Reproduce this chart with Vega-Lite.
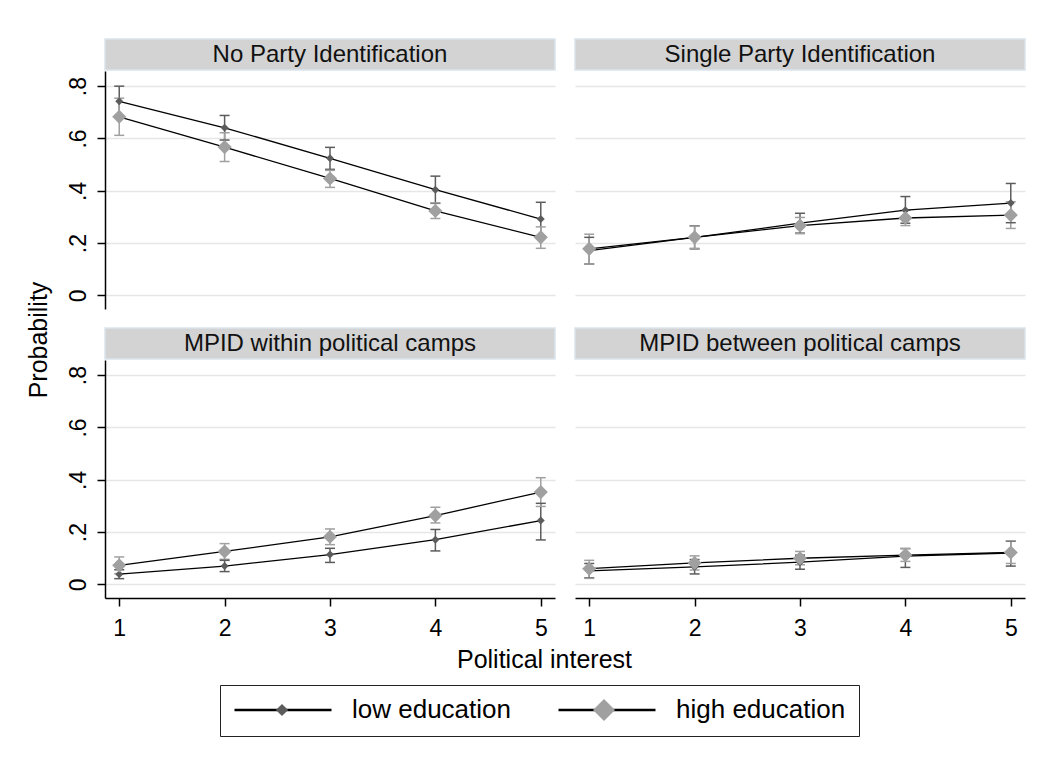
{
  "$schema": "https://vega.github.io/schema/vega-lite/v6.json",
  "background": "white",
  "padding": {"left": 27, "top": 38, "right": 0, "bottom": 5},
  "datasets": {
    "pts": [
      {"panel": "No Party Identification", "interest": 1, "edu": "low education", "p": 0.742, "lo": 0.685, "hi": 0.800},
      {"panel": "No Party Identification", "interest": 2, "edu": "low education", "p": 0.641, "lo": 0.594, "hi": 0.688},
      {"panel": "No Party Identification", "interest": 3, "edu": "low education", "p": 0.524, "lo": 0.482, "hi": 0.566},
      {"panel": "No Party Identification", "interest": 4, "edu": "low education", "p": 0.404, "lo": 0.352, "hi": 0.456},
      {"panel": "No Party Identification", "interest": 5, "edu": "low education", "p": 0.292, "lo": 0.228, "hi": 0.356},
      {"panel": "No Party Identification", "interest": 1, "edu": "high education", "p": 0.683, "lo": 0.612, "hi": 0.754},
      {"panel": "No Party Identification", "interest": 2, "edu": "high education", "p": 0.567, "lo": 0.512, "hi": 0.622},
      {"panel": "No Party Identification", "interest": 3, "edu": "high education", "p": 0.447, "lo": 0.413, "hi": 0.478},
      {"panel": "No Party Identification", "interest": 4, "edu": "high education", "p": 0.323, "lo": 0.294, "hi": 0.354},
      {"panel": "No Party Identification", "interest": 5, "edu": "high education", "p": 0.222, "lo": 0.180, "hi": 0.262},
      {"panel": "Single Party Identification", "interest": 1, "edu": "low education", "p": 0.171, "lo": 0.120, "hi": 0.222},
      {"panel": "Single Party Identification", "interest": 2, "edu": "low education", "p": 0.222, "lo": 0.178, "hi": 0.266},
      {"panel": "Single Party Identification", "interest": 3, "edu": "low education", "p": 0.276, "lo": 0.238, "hi": 0.314},
      {"panel": "Single Party Identification", "interest": 4, "edu": "low education", "p": 0.326, "lo": 0.276, "hi": 0.378},
      {"panel": "Single Party Identification", "interest": 5, "edu": "low education", "p": 0.353, "lo": 0.278, "hi": 0.428},
      {"panel": "Single Party Identification", "interest": 1, "edu": "high education", "p": 0.178, "lo": 0.120, "hi": 0.234},
      {"panel": "Single Party Identification", "interest": 2, "edu": "high education", "p": 0.222, "lo": 0.180, "hi": 0.265},
      {"panel": "Single Party Identification", "interest": 3, "edu": "high education", "p": 0.267, "lo": 0.236, "hi": 0.298},
      {"panel": "Single Party Identification", "interest": 4, "edu": "high education", "p": 0.296, "lo": 0.267, "hi": 0.325},
      {"panel": "Single Party Identification", "interest": 5, "edu": "high education", "p": 0.307, "lo": 0.256, "hi": 0.358},
      {"panel": "MPID within political camps", "interest": 1, "edu": "low education", "p": 0.039, "lo": 0.022, "hi": 0.056},
      {"panel": "MPID within political camps", "interest": 2, "edu": "low education", "p": 0.070, "lo": 0.049, "hi": 0.092},
      {"panel": "MPID within political camps", "interest": 3, "edu": "low education", "p": 0.114, "lo": 0.084, "hi": 0.138},
      {"panel": "MPID within political camps", "interest": 4, "edu": "low education", "p": 0.171, "lo": 0.128, "hi": 0.210},
      {"panel": "MPID within political camps", "interest": 5, "edu": "low education", "p": 0.244, "lo": 0.170, "hi": 0.310},
      {"panel": "MPID within political camps", "interest": 1, "edu": "high education", "p": 0.073, "lo": 0.041, "hi": 0.105},
      {"panel": "MPID within political camps", "interest": 2, "edu": "high education", "p": 0.126, "lo": 0.096, "hi": 0.156},
      {"panel": "MPID within political camps", "interest": 3, "edu": "high education", "p": 0.182, "lo": 0.152, "hi": 0.212},
      {"panel": "MPID within political camps", "interest": 4, "edu": "high education", "p": 0.263, "lo": 0.235, "hi": 0.295},
      {"panel": "MPID within political camps", "interest": 5, "edu": "high education", "p": 0.353, "lo": 0.298, "hi": 0.408},
      {"panel": "MPID between political camps", "interest": 1, "edu": "low education", "p": 0.052, "lo": 0.025, "hi": 0.080},
      {"panel": "MPID between political camps", "interest": 2, "edu": "low education", "p": 0.067, "lo": 0.040, "hi": 0.095},
      {"panel": "MPID between political camps", "interest": 3, "edu": "low education", "p": 0.085, "lo": 0.058, "hi": 0.112},
      {"panel": "MPID between political camps", "interest": 4, "edu": "low education", "p": 0.108, "lo": 0.065, "hi": 0.137},
      {"panel": "MPID between political camps", "interest": 5, "edu": "low education", "p": 0.120, "lo": 0.070, "hi": 0.165},
      {"panel": "MPID between political camps", "interest": 1, "edu": "high education", "p": 0.060, "lo": 0.023, "hi": 0.092},
      {"panel": "MPID between political camps", "interest": 2, "edu": "high education", "p": 0.082, "lo": 0.055, "hi": 0.109},
      {"panel": "MPID between political camps", "interest": 3, "edu": "high education", "p": 0.100, "lo": 0.075, "hi": 0.126},
      {"panel": "MPID between political camps", "interest": 4, "edu": "high education", "p": 0.112, "lo": 0.088, "hi": 0.137},
      {"panel": "MPID between political camps", "interest": 5, "edu": "high education", "p": 0.122, "lo": 0.080, "hi": 0.167}
    ],
    "heads": [
      {"panel": "No Party Identification"},
      {"panel": "Single Party Identification"},
      {"panel": "MPID within political camps"},
      {"panel": "MPID between political camps"}
    ],
    "titles": [
      {"axis": "y", "t": "Probability"},
      {"axis": "x", "t": "Political interest"}
    ]
  },
  "spacing": 4,
  "vconcat": [
    {
      "spacing": 14,
      "hconcat": [
        {
          "width": 24, "height": 602,
          "data": {"name": "titles"},
          "transform": [{"filter": "datum.axis === 'y'"}],
          "mark": {"type": "text", "angle": 270, "fontSize": 25, "color": "#000000", "align": "center", "baseline": "middle"},
          "encoding": {"text": {"field": "t"}}
        },
        {
          "spacing": 18,
          "vconcat": [
            {
              "spacing": 18,
              "hconcat": [
                {
                  "spacing": 0,
                  "vconcat": [
                    {
                      "width": 450, "height": 31,
                      "data": {"name": "heads"},
                      "transform": [{"filter": "datum.panel === 'No Party Identification'"}],
                      "view": {"fill": "#d3d3d3", "stroke": "#dbe5ec", "strokeWidth": 1.5},
                      "mark": {"type": "text", "fontSize": 24, "color": "#111111", "align": "center", "baseline": "middle"},
                      "encoding": {"text": {"field": "panel"}}
                    },
                    {
                      "width": 450, "height": 238,
                      "data": {"name": "pts"},
                      "transform": [{"filter": "datum.panel === 'No Party Identification'"}],
                      "encoding": {
                        "x": {"field": "interest", "type": "quantitative", "scale": {"domain": [0.865, 5.135], "nice": false, "zero": false}, "axis": null},
                        "y": {"field": "p", "type": "quantitative", "scale": {"domain": [-0.052, 0.858], "nice": false, "zero": false},
                              "axis": {"values": [0, 0.2, 0.4, 0.6, 0.8], "labelExpr": "datum.value == 0 ? '0' : replace(format(datum.value, '.1f'), '0.', '.')", "labelAngle": -90, "labelAlign": "center", "labelBaseline": "bottom", "labelPadding": 7, "grid": true, "title": null}}
                      },
                      "layer": [
                        {"mark": {"type": "rule", "strokeWidth": 1.5},
                         "encoding": {"y": {"field": "lo", "type": "quantitative", "scale": {"domain": [-0.052, 0.858], "nice": false, "zero": false}, "title": null}, "y2": {"field": "hi"},
                                      "color": {"condition": {"test": "datum.edu === 'low education'", "value": "#5c5c5c"}, "value": "#a0a0a0"}}},
                        {"mark": {"type": "tick", "orient": "horizontal", "size": 10, "thickness": 1.5, "opacity": 1},
                         "encoding": {"y": {"field": "lo", "type": "quantitative", "scale": {"domain": [-0.052, 0.858], "nice": false, "zero": false}, "title": null},
                                      "color": {"condition": {"test": "datum.edu === 'low education'", "value": "#5c5c5c"}, "value": "#a0a0a0"}}},
                        {"mark": {"type": "tick", "orient": "horizontal", "size": 10, "thickness": 1.5, "opacity": 1},
                         "encoding": {"y": {"field": "hi", "type": "quantitative", "scale": {"domain": [-0.052, 0.858], "nice": false, "zero": false}, "title": null},
                                      "color": {"condition": {"test": "datum.edu === 'low education'", "value": "#5c5c5c"}, "value": "#a0a0a0"}}},
                        {"mark": {"type": "line", "strokeWidth": 1.3},
                         "encoding": {"stroke": {"field": "edu", "type": "nominal", "sort": "descending", "scale": {"range": ["#000000", "#000000"]},
                                                 "legend": {"orient": "none", "legendX": 193, "legendY": 646, "direction": "horizontal", "title": null,
                                                            "strokeColor": "#222222", "padding": 13,
                                                            "symbolType": "stroke",
                                                            "symbolSize": 9409, "clipHeight": 24, "labelLimit": 400,
                                                            "labelFont": "Liberation Sans", "labelFontSize": 26, "labelColor": "#000000", "labelOffset": 19,
                                                            "columnPadding": 46, "symbolStrokeWidth": 2.4}}}},
                        {"mark": {"type": "point", "filled": true, "shape": "diamond", "opacity": 1, "strokeWidth": 0},
                         "encoding": {
                           "fill": {"field": "edu", "type": "nominal", "scale": {"domain": ["low education", "high education"], "range": ["#5c5c5c", "#a0a0a0"]},
                                    "legend": {"orient": "none", "legendX": 248.5, "legendY": 659, "title": null, "values": ["low education"],
                                               "padding": 0, "symbolType": "diamond", "symbolSize": 150, "clipHeight": 24,
                                               "labelExpr": "''", "labelOffset": 0, "symbolStrokeWidth": 0, "symbolOpacity": 1}},
                           "shape": {"field": "edu", "type": "nominal", "sort": "ascending", "scale": {"range": ["diamond", "diamond"]},
                                     "legend": {"orient": "none", "legendX": 566, "legendY": 659, "title": null, "values": ["high education"],
                                                "padding": 0, "symbolSize": 484, "clipHeight": 24, "symbolFillColor": "#a0a0a0",
                                                "labelExpr": "''", "labelOffset": 0, "symbolStrokeWidth": 0, "symbolOpacity": 1}},
                           "size": {"condition": {"test": "datum.edu === 'low education'", "value": 64}, "value": 200}
                         }}
                      ]
                    }
                  ]
                },
                {
                  "spacing": 0,
                  "vconcat": [
                    {
                      "width": 450, "height": 31,
                      "data": {"name": "heads"},
                      "transform": [{"filter": "datum.panel === 'Single Party Identification'"}],
                      "view": {"fill": "#d3d3d3", "stroke": "#dbe5ec", "strokeWidth": 1.5},
                      "mark": {"type": "text", "fontSize": 24, "color": "#111111", "align": "center", "baseline": "middle"},
                      "encoding": {"text": {"field": "panel"}}
                    },
                    {
                      "width": 450, "height": 238,
                      "data": {"name": "pts"},
                      "transform": [{"filter": "datum.panel === 'Single Party Identification'"}],
                      "encoding": {
                        "x": {"field": "interest", "type": "quantitative", "scale": {"domain": [0.865, 5.135], "nice": false, "zero": false}, "axis": null},
                        "y": {"field": "p", "type": "quantitative", "scale": {"domain": [-0.052, 0.858], "nice": false, "zero": false},
                              "axis": {"values": [0, 0.2, 0.4, 0.6, 0.8], "labels": false, "ticks": false, "domain": false, "grid": true, "title": null}}
                      },
                      "layer": [
                        {"mark": {"type": "rule", "strokeWidth": 1.5},
                         "encoding": {"y": {"field": "lo", "type": "quantitative", "scale": {"domain": [-0.052, 0.858], "nice": false, "zero": false}, "title": null}, "y2": {"field": "hi"},
                                      "color": {"condition": {"test": "datum.edu === 'low education'", "value": "#5c5c5c"}, "value": "#a0a0a0"}}},
                        {"mark": {"type": "tick", "orient": "horizontal", "size": 10, "thickness": 1.5, "opacity": 1},
                         "encoding": {"y": {"field": "lo", "type": "quantitative", "scale": {"domain": [-0.052, 0.858], "nice": false, "zero": false}, "title": null},
                                      "color": {"condition": {"test": "datum.edu === 'low education'", "value": "#5c5c5c"}, "value": "#a0a0a0"}}},
                        {"mark": {"type": "tick", "orient": "horizontal", "size": 10, "thickness": 1.5, "opacity": 1},
                         "encoding": {"y": {"field": "hi", "type": "quantitative", "scale": {"domain": [-0.052, 0.858], "nice": false, "zero": false}, "title": null},
                                      "color": {"condition": {"test": "datum.edu === 'low education'", "value": "#5c5c5c"}, "value": "#a0a0a0"}}},
                        {"mark": {"type": "line", "strokeWidth": 1.3},
                         "encoding": {"stroke": {"field": "edu", "type": "nominal", "sort": "descending", "scale": {"range": ["#000000", "#000000"]}}}},
                        {"mark": {"type": "point", "filled": true, "shape": "diamond", "opacity": 1, "strokeWidth": 0},
                         "encoding": {
                           "fill": {"field": "edu", "type": "nominal", "scale": {"domain": ["low education", "high education"], "range": ["#5c5c5c", "#a0a0a0"]}},
                           "size": {"condition": {"test": "datum.edu === 'low education'", "value": 64}, "value": 200}
                         }}
                      ]
                    }
                  ]
                }
              ]
            },
            {
              "spacing": 18,
              "hconcat": [
                {
                  "spacing": 0,
                  "vconcat": [
                    {
                      "width": 450, "height": 31,
                      "data": {"name": "heads"},
                      "transform": [{"filter": "datum.panel === 'MPID within political camps'"}],
                      "view": {"fill": "#d3d3d3", "stroke": "#dbe5ec", "strokeWidth": 1.5},
                      "mark": {"type": "text", "fontSize": 24, "color": "#111111", "align": "center", "baseline": "middle"},
                      "encoding": {"text": {"field": "panel"}}
                    },
                    {
                      "width": 450, "height": 238,
                      "data": {"name": "pts"},
                      "transform": [{"filter": "datum.panel === 'MPID within political camps'"}],
                      "encoding": {
                        "x": {"field": "interest", "type": "quantitative", "scale": {"domain": [0.865, 5.135], "nice": false, "zero": false},
                              "axis": {"values": [1, 2, 3, 4, 5], "format": "d", "grid": false, "labelPadding": 11, "title": null}},
                        "y": {"field": "p", "type": "quantitative", "scale": {"domain": [-0.052, 0.858], "nice": false, "zero": false},
                              "axis": {"values": [0, 0.2, 0.4, 0.6, 0.8], "labelExpr": "datum.value == 0 ? '0' : replace(format(datum.value, '.1f'), '0.', '.')", "labelAngle": -90, "labelAlign": "center", "labelBaseline": "bottom", "labelPadding": 7, "grid": true, "title": null}}
                      },
                      "layer": [
                        {"mark": {"type": "rule", "strokeWidth": 1.5},
                         "encoding": {"y": {"field": "lo", "type": "quantitative", "scale": {"domain": [-0.052, 0.858], "nice": false, "zero": false}, "title": null}, "y2": {"field": "hi"},
                                      "color": {"condition": {"test": "datum.edu === 'low education'", "value": "#5c5c5c"}, "value": "#a0a0a0"}}},
                        {"mark": {"type": "tick", "orient": "horizontal", "size": 10, "thickness": 1.5, "opacity": 1},
                         "encoding": {"y": {"field": "lo", "type": "quantitative", "scale": {"domain": [-0.052, 0.858], "nice": false, "zero": false}, "title": null},
                                      "color": {"condition": {"test": "datum.edu === 'low education'", "value": "#5c5c5c"}, "value": "#a0a0a0"}}},
                        {"mark": {"type": "tick", "orient": "horizontal", "size": 10, "thickness": 1.5, "opacity": 1},
                         "encoding": {"y": {"field": "hi", "type": "quantitative", "scale": {"domain": [-0.052, 0.858], "nice": false, "zero": false}, "title": null},
                                      "color": {"condition": {"test": "datum.edu === 'low education'", "value": "#5c5c5c"}, "value": "#a0a0a0"}}},
                        {"mark": {"type": "line", "strokeWidth": 1.3},
                         "encoding": {"stroke": {"field": "edu", "type": "nominal", "sort": "descending", "scale": {"range": ["#000000", "#000000"]}}}},
                        {"mark": {"type": "point", "filled": true, "shape": "diamond", "opacity": 1, "strokeWidth": 0},
                         "encoding": {
                           "fill": {"field": "edu", "type": "nominal", "scale": {"domain": ["low education", "high education"], "range": ["#5c5c5c", "#a0a0a0"]}},
                           "size": {"condition": {"test": "datum.edu === 'low education'", "value": 64}, "value": 200}
                         }}
                      ]
                    }
                  ]
                },
                {
                  "spacing": 0,
                  "vconcat": [
                    {
                      "width": 450, "height": 31,
                      "data": {"name": "heads"},
                      "transform": [{"filter": "datum.panel === 'MPID between political camps'"}],
                      "view": {"fill": "#d3d3d3", "stroke": "#dbe5ec", "strokeWidth": 1.5},
                      "mark": {"type": "text", "fontSize": 24, "color": "#111111", "align": "center", "baseline": "middle"},
                      "encoding": {"text": {"field": "panel"}}
                    },
                    {
                      "width": 450, "height": 238,
                      "data": {"name": "pts"},
                      "transform": [{"filter": "datum.panel === 'MPID between political camps'"}],
                      "encoding": {
                        "x": {"field": "interest", "type": "quantitative", "scale": {"domain": [0.865, 5.135], "nice": false, "zero": false},
                              "axis": {"values": [1, 2, 3, 4, 5], "format": "d", "grid": false, "labelPadding": 11, "title": null}},
                        "y": {"field": "p", "type": "quantitative", "scale": {"domain": [-0.052, 0.858], "nice": false, "zero": false},
                              "axis": {"values": [0, 0.2, 0.4, 0.6, 0.8], "labels": false, "ticks": false, "domain": false, "grid": true, "title": null}}
                      },
                      "layer": [
                        {"mark": {"type": "rule", "strokeWidth": 1.5},
                         "encoding": {"y": {"field": "lo", "type": "quantitative", "scale": {"domain": [-0.052, 0.858], "nice": false, "zero": false}, "title": null}, "y2": {"field": "hi"},
                                      "color": {"condition": {"test": "datum.edu === 'low education'", "value": "#5c5c5c"}, "value": "#a0a0a0"}}},
                        {"mark": {"type": "tick", "orient": "horizontal", "size": 10, "thickness": 1.5, "opacity": 1},
                         "encoding": {"y": {"field": "lo", "type": "quantitative", "scale": {"domain": [-0.052, 0.858], "nice": false, "zero": false}, "title": null},
                                      "color": {"condition": {"test": "datum.edu === 'low education'", "value": "#5c5c5c"}, "value": "#a0a0a0"}}},
                        {"mark": {"type": "tick", "orient": "horizontal", "size": 10, "thickness": 1.5, "opacity": 1},
                         "encoding": {"y": {"field": "hi", "type": "quantitative", "scale": {"domain": [-0.052, 0.858], "nice": false, "zero": false}, "title": null},
                                      "color": {"condition": {"test": "datum.edu === 'low education'", "value": "#5c5c5c"}, "value": "#a0a0a0"}}},
                        {"mark": {"type": "line", "strokeWidth": 1.3},
                         "encoding": {"stroke": {"field": "edu", "type": "nominal", "sort": "descending", "scale": {"range": ["#000000", "#000000"]}}}},
                        {"mark": {"type": "point", "filled": true, "shape": "diamond", "opacity": 1, "strokeWidth": 0},
                         "encoding": {
                           "fill": {"field": "edu", "type": "nominal", "scale": {"domain": ["low education", "high education"], "range": ["#5c5c5c", "#a0a0a0"]}},
                           "size": {"condition": {"test": "datum.edu === 'low education'", "value": 64}, "value": 200}
                         }}
                      ]
                    }
                  ]
                }
              ]
            }
          ]
        }
      ]
    },
    {
      "width": 1035, "height": 30,
      "data": {"name": "titles"},
      "transform": [{"filter": "datum.axis === 'x'"}],
      "mark": {"type": "text", "fontSize": 25, "color": "#000000", "align": "center", "baseline": "middle"},
      "encoding": {"text": {"field": "t"}}
    }
  ],
  "config": {
    "font": "Liberation Sans",
    "view": {"stroke": null},
    "axis": {
      "domainColor": "#000000", "domainWidth": 1.5,
      "tickColor": "#000000", "tickWidth": 1.5, "tickSize": 8,
      "labelFont": "Liberation Sans", "labelFontSize": 23, "labelColor": "#000000",
      "titleFont": "Liberation Sans", "titleFontSize": 25, "titleFontWeight": "normal", "titleColor": "#000000",
      "gridColor": "#e6e6e6", "gridWidth": 1.5
    },
    "text": {"font": "Liberation Sans"}
  }
}
